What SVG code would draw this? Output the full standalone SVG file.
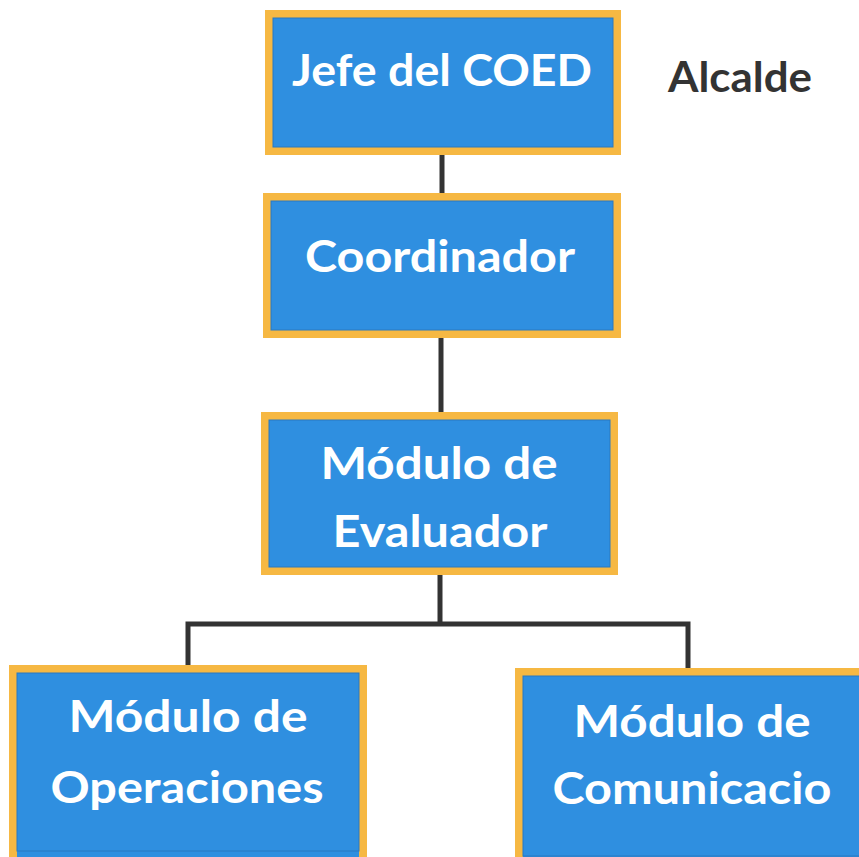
<svg xmlns="http://www.w3.org/2000/svg" width="859" height="857" viewBox="0 0 859 857">
<style>
.box{fill:#2f8fe0;stroke:#f6b843;stroke-width:8}
.inner{fill:none;stroke:#2a78c0;stroke-width:1}
.lbl{font-family:Lato,"Open Sans","Liberation Sans",sans-serif;font-weight:bold;font-size:43px;fill:#ffffff;text-anchor:middle}
.con{fill:none;stroke:#333333;stroke-width:5;stroke-linejoin:miter}
</style>
<rect width="859" height="857" fill="#ffffff"/>
<g id="connectors">
<line class="con" x1="442" y1="155" x2="442" y2="193"/>
<line class="con" x1="441" y1="338" x2="441" y2="412"/>
<polyline class="con" points="440,575 440,624"/>
<polyline class="con" points="188,665 188,624 688,624 688,668"/>
</g>
<g id="jefe">
<rect class="box" x="269" y="14" width="348" height="137"/>
<rect class="inner" x="273" y="18" width="340" height="129"/>
<text class="lbl" x="442" y="86" textLength="300" lengthAdjust="spacingAndGlyphs">Jefe del COED</text>
</g>
<g id="alcalde">
<text x="740" y="92" font-family="Lato,'Open Sans','Liberation Sans',sans-serif" font-weight="bold" font-size="42" fill="#333333" text-anchor="middle" textLength="144" lengthAdjust="spacingAndGlyphs">Alcalde</text>
</g>
<g id="coordinador">
<rect class="box" x="267" y="197" width="350" height="137"/>
<rect class="inner" x="271" y="201" width="342" height="129"/>
<text class="lbl" x="440" y="272" textLength="270" lengthAdjust="spacingAndGlyphs">Coordinador</text>
</g>
<g id="evaluador">
<rect class="box" x="265" y="416" width="349" height="155"/>
<rect class="inner" x="269" y="420" width="341" height="147"/>
<text class="lbl" x="439" y="479" textLength="237" lengthAdjust="spacingAndGlyphs">Módulo de</text>
<text class="lbl" x="440" y="547" textLength="215" lengthAdjust="spacingAndGlyphs">Evaluador</text>
</g>
<g id="operaciones">
<rect class="box" x="13" y="669" width="350" height="192"/>
<rect class="inner" x="17" y="673" width="342" height="178"/>
<text class="lbl" x="188" y="732" textLength="239" lengthAdjust="spacingAndGlyphs">Módulo de</text>
<text class="lbl" x="187" y="803" textLength="273" lengthAdjust="spacingAndGlyphs">Operaciones</text>
</g>
<g id="comunicacion">
<rect class="box" x="519" y="672" width="360" height="200"/>
<rect class="inner" x="523" y="676" width="352" height="180"/>
<text class="lbl" x="692" y="737" textLength="237" lengthAdjust="spacingAndGlyphs">Módulo de</text>
<text class="lbl" x="692" y="804" textLength="279" lengthAdjust="spacingAndGlyphs">Comunicacio</text>
</g>
</svg>
